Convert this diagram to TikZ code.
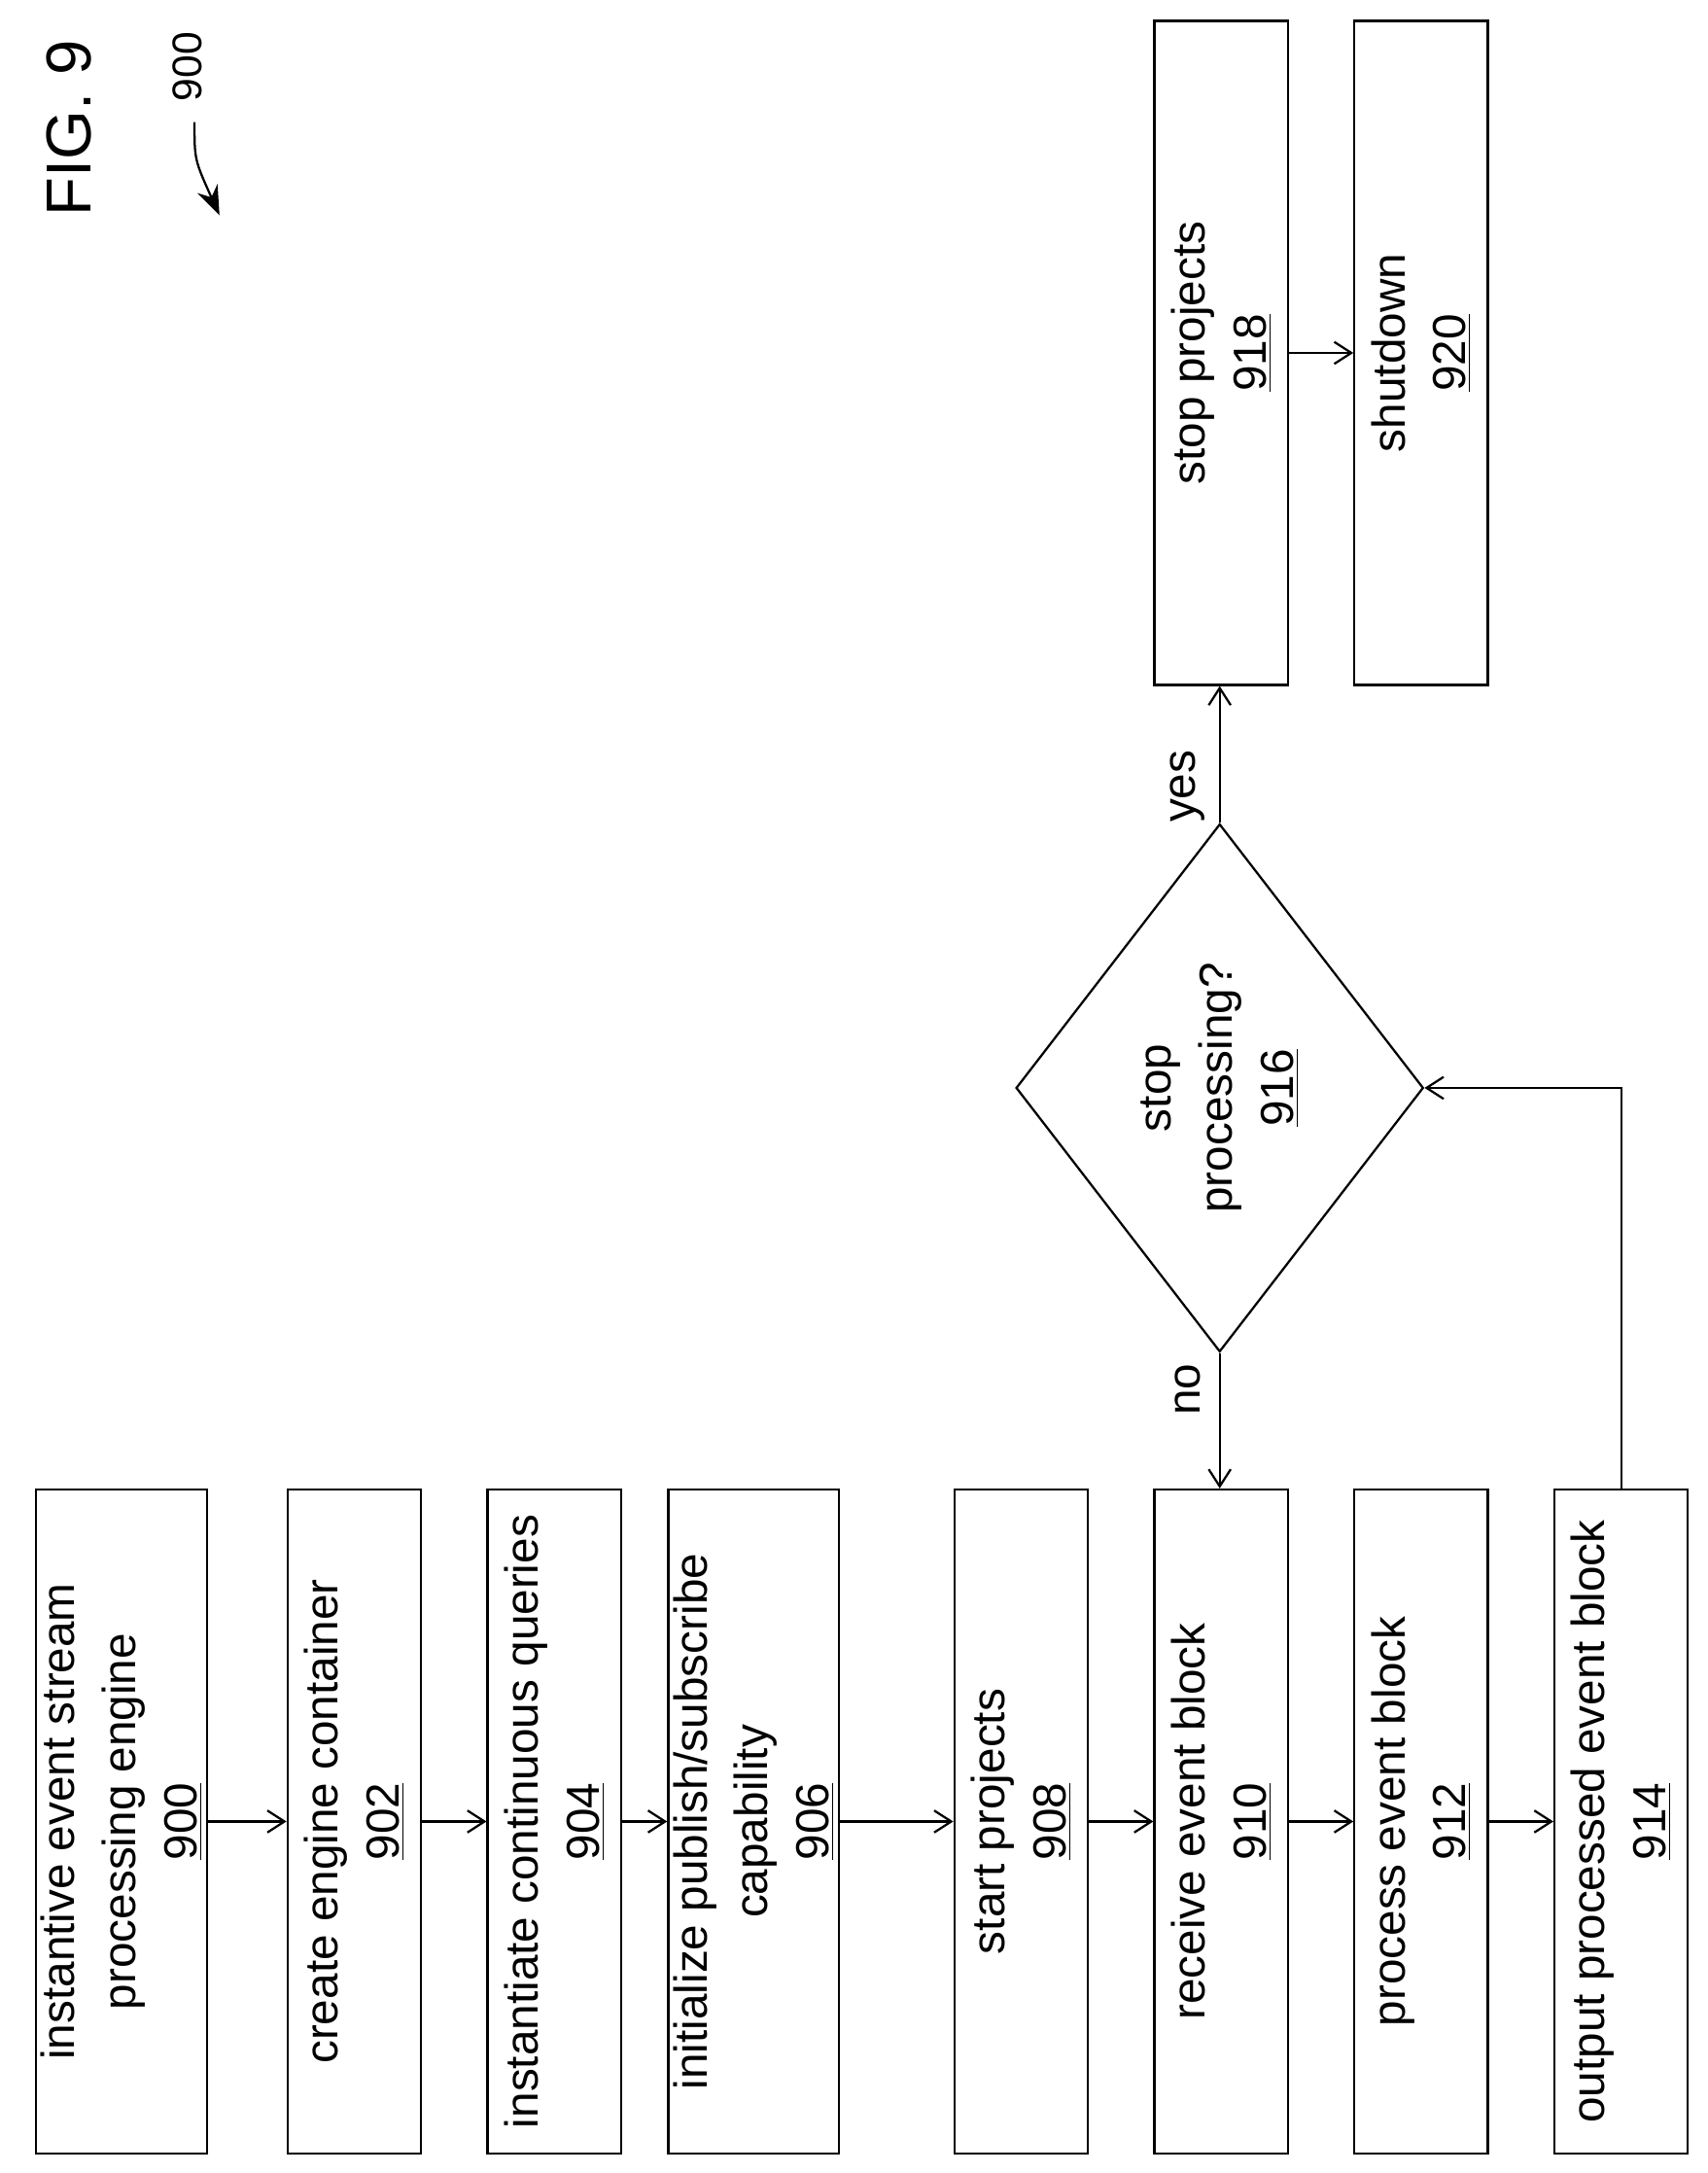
\documentclass[tikz,border=0pt]{standalone}
\usepackage{fontspec}
\setmainfont{Liberation Sans}
\usetikzlibrary{shapes.geometric,arrows.meta}
\begin{document}
\begin{tikzpicture}[x=0.02cm,y=-0.02cm,
  box/.style={draw,line width=0.9pt,rotate=90,minimum width=9.56cm,minimum height=1.92cm,align=center,inner sep=2pt,font=\fontsize{19}{25}\selectfont},
  arr/.style={line width=0.9pt,-{Straight Barb[length=7pt,width=9pt]}},
  lbl/.style={rotate=90,font=\fontsize{19}{25}\selectfont}]
\useasboundingbox (0,0) rectangle (1229,1564);
\node[box] (n900) at (87.5,1311) {instantive event stream\\processing engine\\\underline{900}};
\node[box] (n902) at (255,1311) {create engine container\\\underline{902}};
\node[box] (n904) at (399,1311) {instantiate continuous queries\\\underline{904}};
\node[box] (n906) at (542.5,1311) {initialize publish/subscribe\\capability\\\underline{906}};
\node[box] (n908) at (735,1311) {start projects\\\underline{908}};
\node[box] (n910) at (879,1311) {receive event block\\\underline{910}};
\node[box] (n912) at (1023,1311) {process event block\\\underline{912}};
\node[box] (n914) at (1167,1311) {output processed event block\\\underline{914}};
\node[box] (n918) at (879,254) {stop projects\\\underline{918}};
\node[box] (n920) at (1023,254) {shutdown\\\underline{920}};
\node[draw,line width=0.9pt,diamond,rotate=90,minimum width=7.6cm,minimum height=3.8cm,inner sep=0pt,align=center,font=\fontsize{19}{25}\selectfont] (n916) at (878,783) {stop\\processing?\\\underline{916}};
\draw[arr] (n900.south) -- (n902.north);
\draw[arr] (n902.south) -- (n904.north);
\draw[arr] (n904.south) -- (n906.north);
\draw[arr] (n906.south) -- (n908.north);
\draw[arr] (n908.south) -- (n910.north);
\draw[arr] (n910.south) -- (n912.north);
\draw[arr] (n912.south) -- (n914.north);
\draw[arr] (n914.east) |- (n916.south);
\draw[arr] (n916.west) -- (n910.east -| n916.west);
\draw[arr] (n916.east) -- (n918.west -| n916.east);
\draw[arr] (n918.south) -- (n920.north);
\node[lbl] (no) at (855,1000) {no};
\node[lbl] (yes) at (855,566) {yes};
\node[rotate=90,font=\fontsize{26}{30}\selectfont] (fig) at (50,92) {FIG. 9};
\node[rotate=90,font=\fontsize{17}{20}\selectfont] (ref) at (135,48) {900};
\coordinate (c1) at (140,88);
\coordinate (c2) at (158,155);
\draw[line width=0.9pt,-{Stealth[length=12pt,width=9pt]}] (c1) .. controls (140,115) .. (c2);
\end{tikzpicture}
\end{document}
